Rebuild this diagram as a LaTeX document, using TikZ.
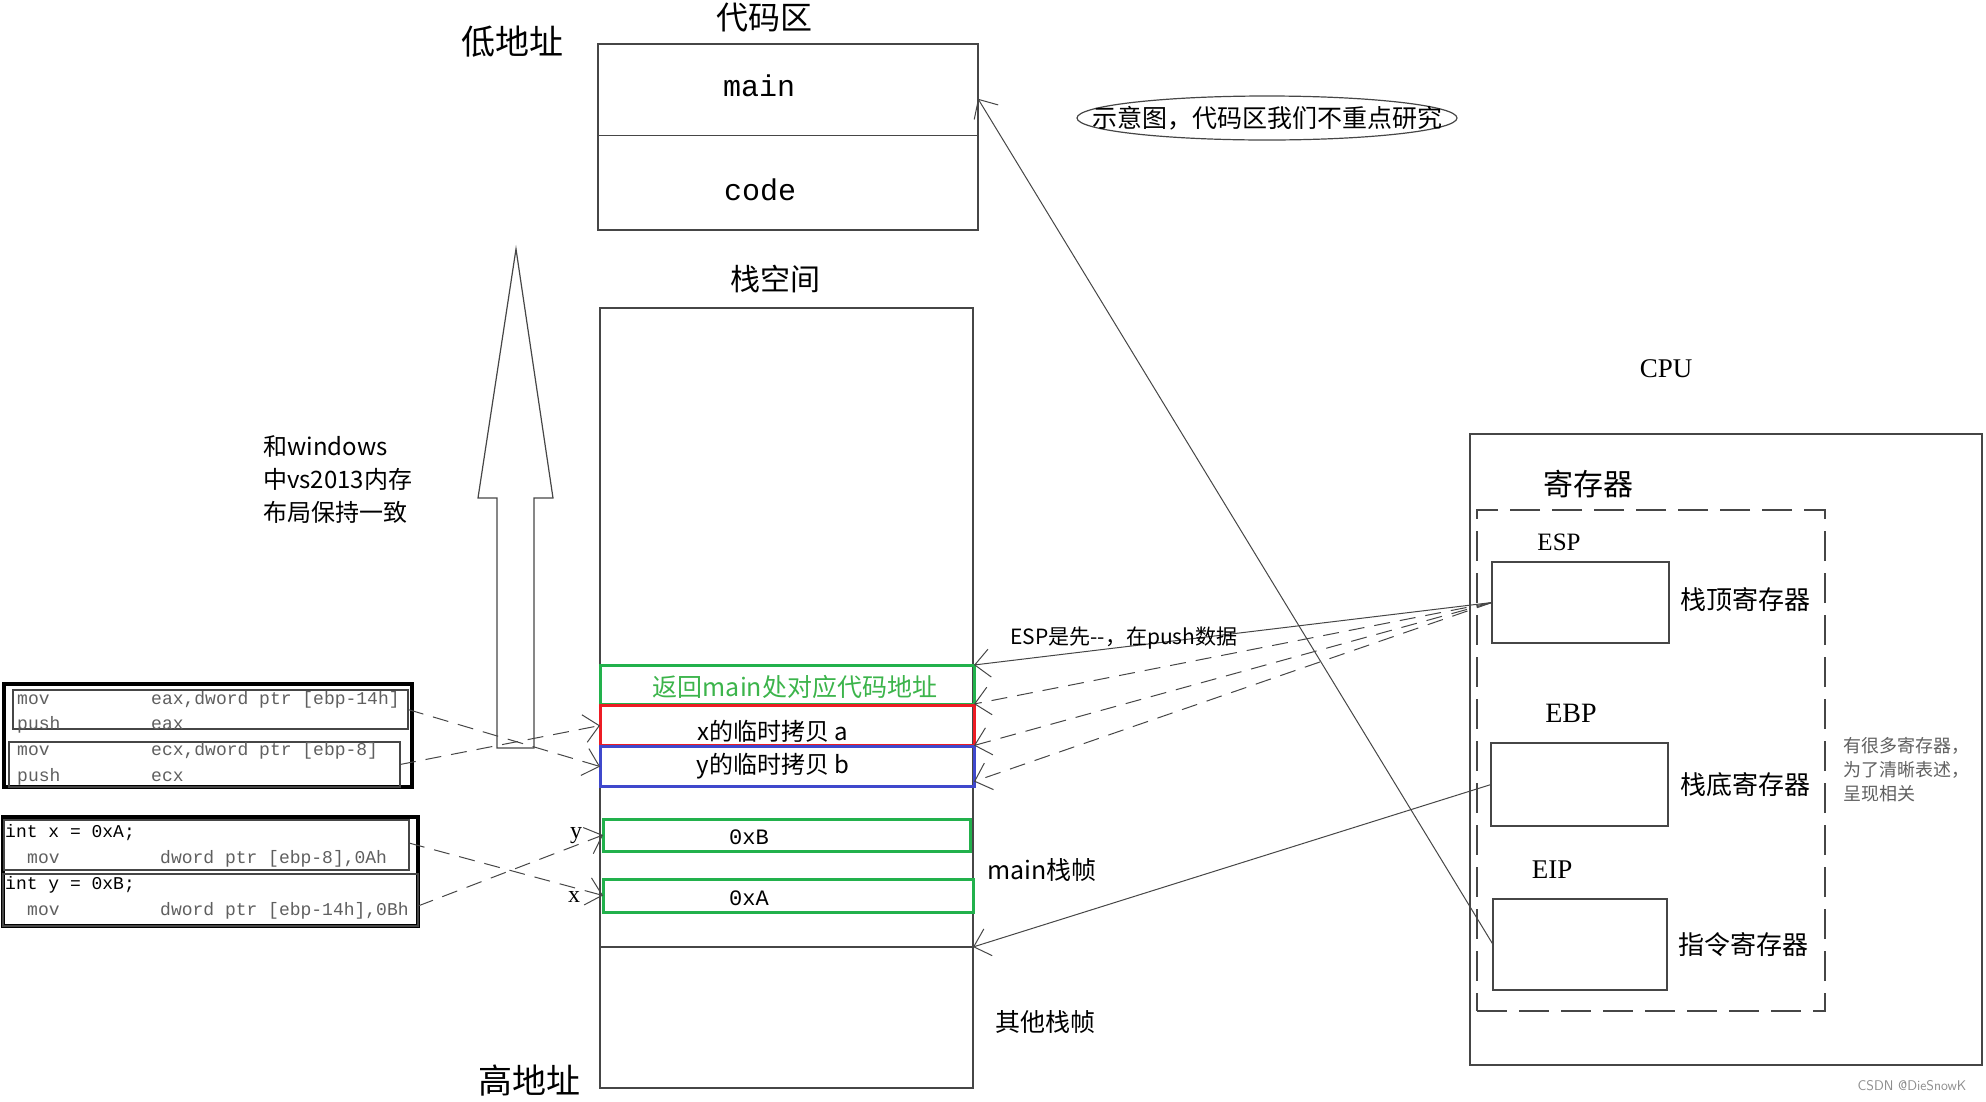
\documentclass[tikz,border=0pt]{standalone}
\usepackage{fontspec}
\setmainfont{Liberation Serif}
\newfontfamily\cjk{Noto Sans CJK SC}
\newfontfamily\mono{Liberation Mono}
\usetikzlibrary{arrows.meta,shapes.geometric}
\newcommand\myfs[1]{\fontsize{#1}{#1}\selectfont}
\definecolor{boxgreen}{RGB}{34,177,76}
\definecolor{boxred}{RGB}{237,28,36}
\definecolor{boxblue}{RGB}{63,72,204}
\definecolor{txtgreen}{RGB}{60,180,75}
\definecolor{codegray}{RGB}{95,95,95}
\definecolor{linegray}{RGB}{70,70,70}
\tikzset{
  box/.style={draw=linegray, line width=1.3pt, inner sep=0pt, outer sep=0pt, anchor=north west},
  cbox/.style={box, line width=3pt},
  thick box/.style={box, draw=black, line width=3.2pt},
  arr/.style={-{Straight Barb[length=15pt,width=28pt]}, draw=linegray, line width=1pt},
  dsh/.style={dash pattern=on 16pt off 10pt},
  lbl/.style={inner sep=0pt, font=\cjk},
  codetxt/.style={inner sep=0pt, anchor=west, text height=13pt, text depth=4pt, font=\mono\myfs{18}},
}
\begin{document}
\begin{tikzpicture}[x=1pt,y=-1pt]
\useasboundingbox (0,0) rectangle (1986,1101);

% ---- code area ----
\node[lbl, font=\cjk\myfs{34}] (lowaddr) at (512,42) {低地址};
\node[lbl, font=\cjk\myfs{32}] (codeareat) at (764,18) {代码区};
\node[box, minimum width=380pt, minimum height=91.5pt] (cmain) at (598,44) {};
\node[box, minimum width=380pt, minimum height=94.5pt] (ccode) at (598,135.5) {};
\node[inner sep=0pt, font=\mono\myfs{30}] (tmain) at (759,86) {main};
\node[inner sep=0pt, font=\mono\myfs{30}] (tcode) at (760,190) {code};
\node[draw=linegray, line width=1.2pt, ellipse, minimum width=380pt, minimum height=44pt] (note) at (1267,118) {};
\node[lbl, font=\cjk\myfs{25}] (notetxt) at (1267,118) {示意图，代码区我们不重点研究};

% ---- stack ----
\node[lbl, font=\cjk\myfs{30}] (stackt) at (775,279) {栈空间};
\node[box, minimum width=373pt, minimum height=639pt] (stack) at (600,308) {};
\node[box, minimum width=373pt, minimum height=141pt] (other) at (600,947) {};
\node[cbox, draw=boxgreen, minimum width=374pt, minimum height=39pt] (green) at (600,665) {};
\node[cbox, draw=boxred, minimum width=374pt, minimum height=40pt] (red) at (600,705.5) {};
\node[cbox, draw=boxblue, minimum width=374pt, minimum height=40pt] (blue) at (600,746.5) {};
\node[lbl, font=\cjk\myfs{25}, text=txtgreen] (tret) at (795,687) {返回main处对应代码地址};
\node[lbl, font=\cjk\myfs{24}] (ta) at (773,731) {x的临时拷贝 a};
\node[lbl, font=\cjk\myfs{24}] (tb) at (773,766) {y的临时拷贝 b};
\node[cbox, draw=boxgreen, minimum width=367pt, minimum height=32pt] (vb) at (603,819) {};
\node[cbox, draw=boxgreen, minimum width=370pt, minimum height=33pt] (va) at (603,879) {};
\node[inner sep=0pt, font=\mono\myfs{22}] (tvb) at (749,837) {0xB};
\node[inner sep=0pt, font=\mono\myfs{22}] (tva) at (749,898) {0xA};
\node[lbl, font=\cjk\myfs{25}] (mainframe) at (1042,870) {main栈帧};
\node[lbl, font=\cjk\myfs{25}] (otherframe) at (1045,1022) {其他栈帧};
\node[lbl, font=\cjk\myfs{34}] (highaddr) at (529,1080) {高地址};

% ---- big hollow up arrow ----
\draw[draw=linegray, line width=1.2pt] (497,748) -- (497,498) -- (478,498) -- (516,249) -- (553,498) -- (534,498) -- (534,748) -- cycle;
\node[lbl, font=\cjk\myfs{24}, align=left, anchor=north west] (winnote) at (263,435) {和windows\\[9pt]中vs2013内存\\[9pt]布局保持一致};

% ---- left code boxes ----
\node[thick box, minimum width=408pt, minimum height=103pt] (outerA) at (4,684) {};
\node[box, line width=1.1pt, minimum width=395pt, minimum height=39pt] (codeA) at (13,690) {};
\node[box, line width=1.1pt, minimum width=391pt, minimum height=45pt] (codeB) at (9,742) {};
\node[codetxt, text=codegray] (a1) at (17,700) {mov};
\node[codetxt, text=codegray] (a2) at (151,700) {eax,dword ptr [ebp-14h]};
\node[codetxt, text=codegray] (a3) at (17,725) {push};
\node[codetxt, text=codegray] (a4) at (151,725) {eax};
\node[codetxt, text=codegray] (b1) at (17,751) {mov};
\node[codetxt, text=codegray] (b2) at (151,751) {ecx,dword ptr [ebp-8]};
\node[codetxt, text=codegray] (b3) at (17,777) {push};
\node[codetxt, text=codegray] (b4) at (151,777) {ecx};

\node[thick box, minimum width=415pt, minimum height=109pt] (outerB) at (3,817) {};
\node[box, line width=1.1pt, minimum width=405pt, minimum height=50pt] (intx) at (4,820) {};
\node[box, line width=1.1pt, minimum width=415pt, minimum height=52pt] (inty) at (3,874) {};
\node[codetxt] (c1) at (5,833) {int x = 0xA;};
\node[codetxt, text=codegray] (c2) at (27,859) {mov};
\node[codetxt, text=codegray] (c3) at (160,859) {dword ptr [ebp-8],0Ah};
\node[codetxt] (c4) at (5,885) {int y = 0xB;};
\node[codetxt, text=codegray] (c5) at (27,911) {mov};
\node[codetxt, text=codegray] (c6) at (160,911) {dword ptr [ebp-14h],0Bh};

\draw[arr, dsh] (codeA.east) -- (blue.west);
\draw[arr, dsh] (codeB.east) -- (red.west);
\draw[arr, dsh] ([yshift=2pt]intx.east) -- (va.west);
\draw[arr, dsh] ([yshift=-6pt]inty.east) -- (vb.west);
\node[inner sep=0pt, font=\myfs{24}] (ylbl) at (576,836) {y};
\node[inner sep=0pt, font=\myfs{24}] (xlbl) at (574,897) {x};

% ---- CPU ----
\node[inner sep=0pt, font=\myfs{27}] (cput) at (1666,369) {CPU};
\node[box, minimum width=512pt, minimum height=631pt] (cpu) at (1470,434) {};
\node[lbl, font=\cjk\myfs{30}] (regt) at (1588,484) {寄存器};
\node[box, dash pattern=on 30pt off 12pt, minimum width=348pt, minimum height=501pt] (regs) at (1477,510) {};
\node[inner sep=0pt, font=\myfs{25}] (espt) at (1559,542) {ESP};
\node[inner sep=0pt, font=\myfs{28}] (ebpt) at (1571,713) {EBP};
\node[inner sep=0pt, font=\myfs{27}] (eipt) at (1552,870) {EIP};
\node[box, line width=1.1pt, minimum width=177pt, minimum height=81pt] (esp) at (1492,562) {};
\node[box, line width=1.1pt, minimum width=177pt, minimum height=83pt] (ebp) at (1491,743) {};
\node[box, line width=1.1pt, minimum width=174pt, minimum height=91pt] (eip) at (1493,899) {};
\node[lbl, font=\cjk\myfs{26}] (espd) at (1745,600) {栈顶寄存器};
\node[lbl, font=\cjk\myfs{26}] (ebpd) at (1745,785) {栈底寄存器};
\node[lbl, font=\cjk\myfs{26}] (eipd) at (1743,945) {指令寄存器};
\node[lbl, font=\cjk\myfs{18}, text=codegray, align=left, anchor=west] (manyregs) at (1843,770) {有很多寄存器，\\[6pt]为了清晰表述，\\[6pt]呈现相关};

% ---- register connectors ----
\draw[arr] (esp.west) -- (green.north east);
\draw[arr, dsh] (esp.west) -- (green.south east);
\draw[arr, dsh] (esp.west) -- (red.south east);
\draw[arr, dsh] (esp.west) -- ([yshift=5pt]blue.south east);
\node[lbl, font=\cjk\myfs{21}] (esplbl) at (1124,638) {ESP是先--，在push数据};
\draw[arr] (ebp.west) -- (other.north east);
\draw[arr] (eip.west) -- ([yshift=-9pt]cmain.east);

\node[inner sep=0pt, font=\sffamily\myfs{14}, text=black!45] (wm) at (1912,1086) {CSDN @DieSnowK};
\end{tikzpicture}
\end{document}
